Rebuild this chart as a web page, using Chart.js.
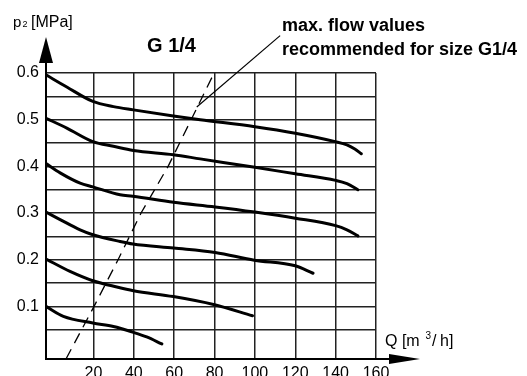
<!DOCTYPE html>
<html>
<head>
<meta charset="utf-8">
<script src="https://cdn.jsdelivr.net/npm/chart.js@4/dist/chart.umd.min.js"></script>
<style>
  html, body { margin: 0; padding: 0; background: #fff; }
  #wrap { width: 527px; height: 376px; }
</style>
</head>
<body>
<div id="wrap"><canvas id="chart"></canvas></div>
<script>
// G 1/4 regulator flow characteristics: outlet pressure p2 vs flow Q.

// axis ticks
const xTicks = [20, 40, 60, 80, 100, 120, 140, 160];
const xTickLabels = ['20', '40', '60', '80', '100', '120', '140', '160'];
const yTicks = [0.05, 0.1, 0.15, 0.2, 0.25, 0.3, 0.35, 0.4, 0.45, 0.5, 0.55, 0.6];
const yTickLabels = ['', '0.1', '', '0.2', '', '0.3', '', '0.4', '', '0.5', '', '0.6'];

// curves, one per set pressure
const q06 = [-3.5, 6.8, 19.7, 29.9, 39.8, 59.6, 72.9, 100, 120, 139.8, 145.6, 149.5, 152.7];
const p06 = [0.596, 0.570, 0.539, 0.528, 0.521, 0.508, 0.500, 0.485, 0.471, 0.453, 0.446, 0.437, 0.427];
const q05 = [-3.5, 6.8, 19.7, 29.9, 39.8, 59.6, 72.9, 100, 120, 140, 145.6, 151];
const p05 = [0.503, 0.482, 0.453, 0.443, 0.434, 0.425, 0.416, 0.398, 0.384, 0.370, 0.363, 0.350];
const q04 = [-3.5, 3.5, 13.4, 19.7, 33.2, 39.5, 59.7, 80.3, 100, 120, 140, 145.6, 151];
const p04 = [0.406, 0.386, 0.364, 0.356, 0.339, 0.336, 0.323, 0.313, 0.302, 0.289, 0.273, 0.264, 0.251];
const q03 = [-3.5, 3.5, 13.4, 19.7, 33.2, 39.5, 59.7, 80.3, 99.7, 120, 128.8];
const p03 = [0.302, 0.286, 0.264, 0.2535, 0.239, 0.2336, 0.225, 0.2156, 0.199, 0.187, 0.171];
const q02 = [-3.5, 8.4, 19.7, 31.6, 39.8, 59.6, 79.5, 98.8];
const p02 = [0.2015, 0.175, 0.155, 0.1415, 0.1336, 0.121, 0.104, 0.080];
const q01 = [-3.5, 5.1, 19.7, 29.9, 39.8, 46.4, 53.9];
const p01 = [0.100, 0.0786, 0.0645, 0.057, 0.0444, 0.0345, 0.0195];

// max. recommended flow (dashed) and the leader to its note
const qMax = [6.4, 20.3, 32.2, 43.6, 57, 68.4, 79.8];
const pMax = [-0.0127, 0.1, 0.2, 0.3, 0.4, 0.5, 0.6];
const qLeader = [71.2, 112.5];
const pLeader = [0.527, 0.68];

const FONT = 'Arial, "Liberation Sans", sans-serif';
const pts = (xs, ys) => xs.map((x, i) => ({ x, y: ys[i] }));

const curve = (xs, ys) => ({
    data: pts(xs, ys),
    borderColor: '#000',
    borderWidth: 3,
    pointRadius: 0,
    tension: 0.4,
    cubicInterpolationMode: 'monotone',
    borderCapStyle: 'round',
});

const decor = {
    id: 'decor',
    beforeDraw(chart) {
        const c = chart.ctx;
        c.save();
        c.fillStyle = '#fff';
        c.fillRect(0, 0, chart.width, chart.height);
        c.restore();
    },
    afterDraw(chart) {
        const c = chart.ctx;
        const a = chart.chartArea;
        c.save();
        c.fillStyle = '#000';
        c.strokeStyle = '#000';
        c.lineWidth = 2;

        // y axis extension + arrow
        c.beginPath();
        c.moveTo(a.left, a.top);
        c.lineTo(a.left, 60);
        c.stroke();
        c.beginPath();
        c.moveTo(a.left - 7, 63);
        c.lineTo(a.left + 7, 63);
        c.lineTo(a.left, 37);
        c.closePath();
        c.fill();

        // x axis extension + arrow
        c.beginPath();
        c.moveTo(a.right, a.bottom);
        c.lineTo(392, a.bottom);
        c.stroke();
        c.beginPath();
        c.moveTo(389, a.bottom - 5);
        c.lineTo(389, a.bottom + 5);
        c.lineTo(420, a.bottom);
        c.closePath();
        c.fill();

        c.textBaseline = 'alphabetic';
        c.textAlign = 'left';

        // y axis title p2[MPa]
        c.font = `15px ${FONT}`;
        c.fillText('p', 13, 27);
        c.font = `9px ${FONT}`;
        c.fillText('2', 22.5, 27);
        c.font = `16px ${FONT}`;
        c.fillText('[MPa]', 31, 27);

        // x axis title Q [m3/h]
        c.font = `16px ${FONT}`;
        c.fillText('Q [m', 385, 346);
        c.font = `10px ${FONT}`;
        c.fillText('3', 425.5, 339);
        c.font = `16px ${FONT}`;
        c.fillText('/', 432, 346);
        c.fillText('h]', 440, 346);

        // titles
        c.font = `bold 20px ${FONT}`;
        c.textAlign = 'center';
        c.fillText('G 1/4', 171.5, 52);
        c.textAlign = 'left';
        c.font = `bold 18px ${FONT}`;
        c.fillText('max. flow values', 282, 31);
        c.fillText('recommended for size G1/4', 282, 55);
        c.restore();
    },
};

new Chart(document.getElementById('chart'), {
    type: 'line',
    data: {
        datasets: [
            curve(q06, p06),
            curve(q05, p05),
            curve(q04, p04),
            curve(q03, p03),
            curve(q02, p02),
            curve(q01, p01),
            {
                data: pts(qMax, pMax),
                borderColor: '#000',
                borderWidth: 1.3,
                borderDash: [11, 7],
                pointRadius: 0,
                tension: 0,
            },
            {
                data: pts(qLeader, pLeader),
                borderColor: '#000',
                borderWidth: 1.2,
                pointRadius: 0,
                tension: 0,
                clip: false,
            },
        ],
    },
    options: {
        responsive: true,
        maintainAspectRatio: false,
        animation: false,
        layout: { padding: { left: 0, top: 73, right: 151, bottom: 0 } },
        plugins: { legend: { display: false }, tooltip: { enabled: false } },
        scales: {
            x: {
                type: 'linear',
                min: -3.5,
                max: 160,
                afterBuildTicks: (axis) => { axis.ticks = xTicks.map((v) => ({ value: v })); },
                afterFit: (axis) => { axis.height = 17; },
                grid: { color: '#222', lineWidth: 1.5, drawTicks: false },
                border: { color: '#000', width: 2 },
                ticks: {
                    color: '#000',
                    padding: 5,
                    maxRotation: 0,
                    autoSkip: false,
                    font: { family: FONT, size: 16 },
                    callback: (v, i) => xTickLabels[i],
                },
            },
            y: {
                type: 'linear',
                min: -0.0127,
                max: 0.6,
                afterBuildTicks: (axis) => { axis.ticks = yTicks.map((v) => ({ value: v })); },
                afterFit: (axis) => { axis.width = 46; },
                grid: { color: '#222', lineWidth: 1.5, drawTicks: false },
                border: { color: '#000', width: 2 },
                ticks: {
                    color: '#000',
                    padding: 7,
                    autoSkip: false,
                    font: { family: FONT, size: 16 },
                    callback: (v, i) => yTickLabels[i],
                },
            },
        },
    },
    plugins: [decor],
});
</script>
</body>
</html>
